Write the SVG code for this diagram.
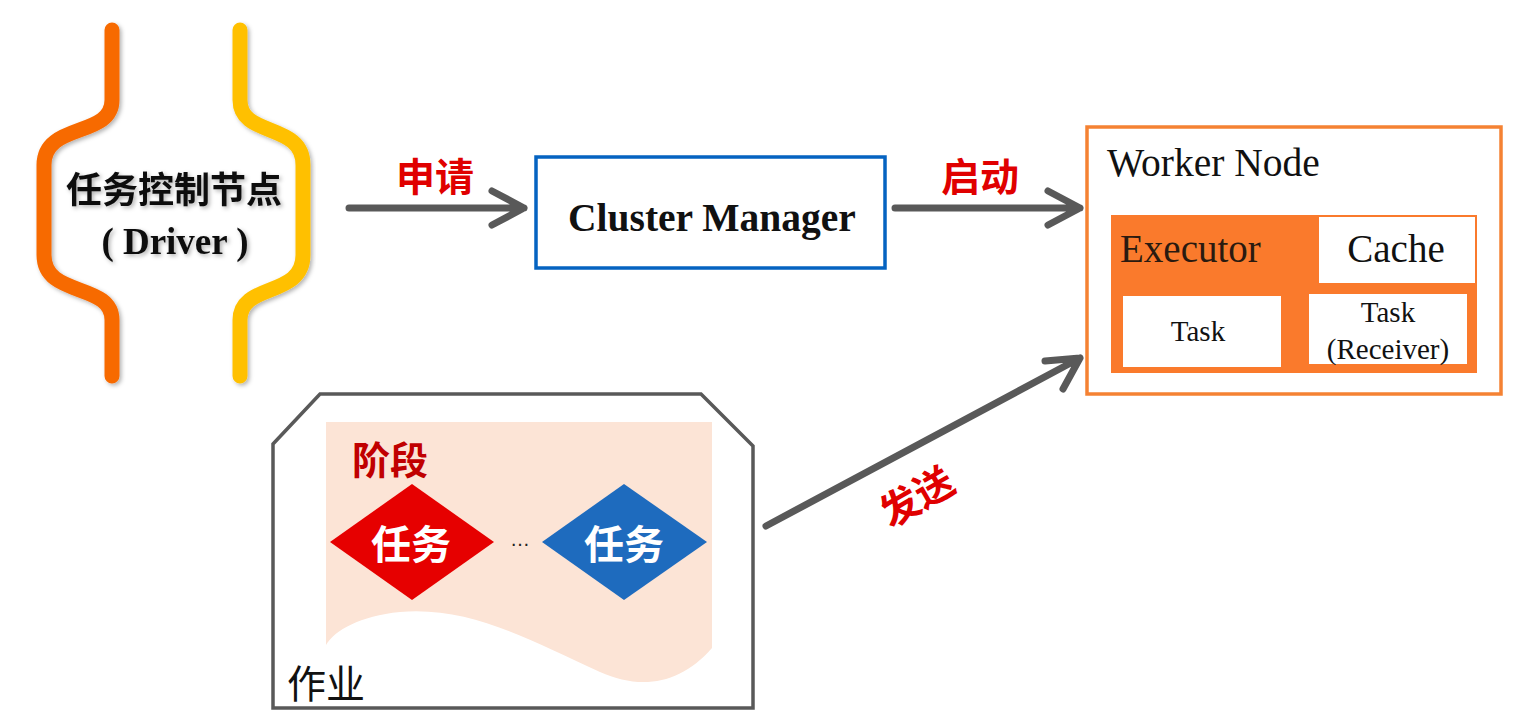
<svg xmlns="http://www.w3.org/2000/svg" width="1533" height="724" viewBox="0 0 1533 724">
<defs>
<style>
.conn{stroke:#595959;stroke-width:7;fill:none;stroke-linecap:round;stroke-linejoin:round}
.lbl{font-family:"Noto Sans CJK SC","Noto Sans",sans-serif;font-weight:bold;fill:#E00000;font-size:39px;text-anchor:middle}
.serif{font-family:'Liberation Serif','DejaVu Serif',serif;fill:#111}
.cjkw{font-family:"Noto Sans CJK SC",sans-serif;font-weight:bold;fill:#FFFFFF;font-size:40px;text-anchor:middle}
.box{fill:#FFFFFF}
</style>
<filter id="sh" x="-20%" y="-20%" width="140%" height="140%">
<feDropShadow dx="2" dy="2" stdDeviation="2" flood-color="#000" flood-opacity="0.3"/>
</filter>
</defs>
<rect width="1533" height="724" fill="#FFFFFF"/>

<g id="driver">
<path d="M112,30 V100 C112,138 44,122 44,165 V255 C44,298 112,282 112,320 V376" stroke="#F76A00" stroke-width="15" fill="none" stroke-linecap="round" filter="url(#sh)"/>
<path d="M240,30 V100 C240,138 303,122 303,165 V255 C303,298 240,282 240,320 V376" stroke="#FFC000" stroke-width="15" fill="none" stroke-linecap="round" filter="url(#sh)"/>
<g filter="url(#sh)">
<text x="174" y="203" font-family="Noto Sans CJK SC,sans-serif" font-weight="bold" font-size="36" text-anchor="middle" fill="#111">任务控制节点</text>
<text x="175" y="254" class="serif" font-weight="bold" font-size="37" text-anchor="middle" xml:space="preserve">( Driver )</text>
</g>
</g>

<g id="cluster-manager">
<rect x="536" y="157" width="349" height="111" fill="#FFFFFF" stroke="#0563C1" stroke-width="3.5"/>
<text x="712" y="231" class="serif" font-weight="bold" font-size="39.5" text-anchor="middle">Cluster Manager</text>
</g>

<g id="worker-node">
<rect x="1087" y="127" width="414" height="267" fill="#FFFFFF" stroke="#F58233" stroke-width="3.5"/>
<text x="1107" y="176" class="serif" font-size="39.5">Worker Node</text>
<g id="executor">
<rect x="1111" y="215" width="366" height="158" fill="#FA7A2C"/>
<text x="1120" y="262" class="serif" font-size="39" style="fill:#2a1a10">Executor</text>
</g>
<g id="cache">
<rect x="1319" y="217" width="156" height="66" class="box"/>
<text x="1396" y="262" class="serif" font-size="39" text-anchor="middle">Cache</text>
</g>
<g id="task">
<rect x="1123" y="296" width="158" height="71" class="box"/>
<text x="1198" y="341" class="serif" font-size="29" text-anchor="middle">Task</text>
</g>
<g id="task-receiver">
<rect x="1309" y="294" width="158" height="70" class="box"/>
<text x="1388" y="322" class="serif" font-size="29" text-anchor="middle">Task</text>
<text x="1388" y="359" class="serif" font-size="29" text-anchor="middle">(Receiver)</text>
</g>
</g>

<g id="job">
<path d="M273,444 L320,394 L701,394 L753,446 V708 H273 Z" fill="#FFFFFF" stroke="#595959" stroke-width="3.5"/>
<path d="M326,422 H712 V648 C680,685 640,690 600,672 C530,640 470,606 400,612 C360,616 335,630 326,645 Z" fill="#FCE4D6"/>
<text x="390" y="474" font-family="Noto Sans CJK SC,sans-serif" font-weight="bold" font-size="38" text-anchor="middle" fill="#C00000">阶段</text>
<g id="task-red">
<polygon points="330,542 412,484 494,542 412,600" fill="#E60000"/>
<text x="411" y="559" class="cjkw">任务</text>
</g>
<text x="520" y="546" font-family="Liberation Sans,sans-serif" font-size="20" text-anchor="middle" fill="#222">…</text>
<g id="task-blue">
<polygon points="542,542 624,484 707,542 624,600" fill="#1E6BBE"/>
<text x="624" y="559" class="cjkw">任务</text>
</g>
<text x="287" y="698" font-family="Noto Sans CJK SC,sans-serif" font-size="39" fill="#111">作业</text>
</g>

<g id="connectors">
<path class="conn" d="M349,208 H524 M492,191 L524,208 L492,225"/>
<path class="conn" d="M895,208 H1080 M1048,191 L1080,208 L1048,225"/>
<path class="conn" d="M766,526 L1080,358 M1045,361 L1080,358 L1063,389"/>
<text x="435" y="191" class="lbl">申请</text>
<text x="980" y="191" class="lbl">启动</text>
<text transform="translate(924,509) rotate(-30)" x="0" y="0" class="lbl">发送</text>
</g>
</svg>
